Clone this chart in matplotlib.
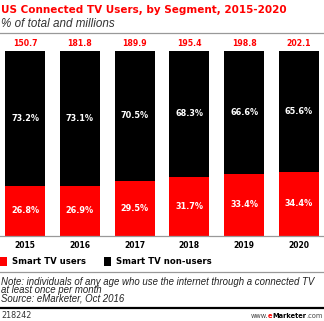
import matplotlib
matplotlib.use("Agg")
import matplotlib.pyplot as plt
from matplotlib.lines import Line2D
from matplotlib.patches import Rectangle

years = ["2015", "2016", "2017", "2018", "2019", "2020"]
users_pct = [26.8, 26.9, 29.5, 31.7, 33.4, 34.4]
nonusers_pct = [73.2, 73.1, 70.5, 68.3, 66.6, 65.6]
totals = [150.7, 181.8, 189.9, 195.4, 198.8, 202.1]

plt.rcParams["font.family"] = ["DejaVu Sans"]
ARIAL = ["Liberation Sans", "DejaVu Sans"]

RED = "#ff0000"
BLACK = "#000000"
W, H = 324, 321

fig = plt.figure(figsize=(W / 100, H / 100), dpi=100)

def fy(py):
    return 1 - py / H

def fx(px):
    return px / W

bw = 0.73
ax = fig.add_axes([fx(5), fy(235.7), fx(314), 185 / H])
x = list(range(len(years)))
ax.bar(x, users_pct, width=bw, color=RED, linewidth=0)
ax.bar(x, nonusers_pct, bottom=users_pct, width=bw, color=BLACK, linewidth=0)
ax.set_xlim(-bw / 2, len(years) - 1 + bw / 2)
ax.set_ylim(0, 100)
ax.axis("off")

for i in x:
    ax.text(i, users_pct[i] / 2, f"{users_pct[i]:.1f}%", color="white",
            ha="center", va="center", fontsize=5.9, fontweight="bold")
    ax.text(i, users_pct[i] + nonusers_pct[i] / 2, f"{nonusers_pct[i]:.1f}%",
            color="white", ha="center", va="center", fontsize=5.9, fontweight="bold")
    ax.text(i, 104, f"{totals[i]:.1f}", color=RED, ha="center", va="center",
            fontsize=5.6, fontweight="bold", clip_on=False)
    ax.text(i, -5.2, years[i], color=BLACK, ha="center", va="center",
            fontsize=5.5, fontweight="bold", clip_on=False)

# Title and subtitle
fig.text(fx(1), fy(10), "US Connected TV Users, by Segment, 2015-2020", color=RED,
         fontsize=7.5, fontweight="bold", ha="left", va="center")
fig.text(fx(1), fy(24), "% of total and millions", color="#333333", family=ARIAL,
         fontsize=8.4, style="italic", ha="left", va="center")

# Lines
fig.add_artist(Line2D([0, 1], [fy(33), fy(33)], color="#999999", lw=0.9))
fig.add_artist(Line2D([0, 1], [fy(236), fy(236)], color="#999999", lw=0.9))
fig.add_artist(Line2D([0, 1], [fy(272), fy(272)], color="#999999", lw=0.9))
fig.add_artist(Line2D([0, 1], [fy(308), fy(308)], color=BLACK, lw=1.6))

# Legend
fig.add_artist(Rectangle((fx(0), fy(265.7)), fx(7), 8.4 / H, color=RED, lw=0))
fig.text(fx(12), fy(262), "Smart TV users", fontsize=6.1, fontweight="bold",
         ha="left", va="center")
fig.add_artist(Rectangle((fx(104), fy(265.7)), fx(7), 8.4 / H, color=BLACK, lw=0))
fig.text(fx(116), fy(262), "Smart TV non-users", fontsize=6.1, fontweight="bold",
         ha="left", va="center")

# Notes
note_lines = ["Note: individuals of any age who use the internet through a connected TV",
              "at least once per month",
              "Source: eMarketer, Oct 2016"]
for k, line in enumerate(note_lines):
    fig.text(fx(1), fy(282 + 8.2 * k), line, fontsize=6.95, style="italic",
             family=ARIAL, color="#222222", ha="left", va="center")

fig.text(fx(1), fy(316), "218242", fontsize=5.8, color="#333333", ha="left", va="center")

# footer url, laid out right-to-left
renderer = fig.canvas.get_renderer()
parts = [("www.", "#444444", "normal"), ("e", RED, "bold"),
         ("Marketer", BLACK, "bold"), (".com", "#444444", "normal")]
xr = 323
for s, c, w in reversed(parts):
    t = fig.text(fx(xr), fy(316), s, fontsize=4.8, color=c, fontweight=w,
                 ha="right", va="center")
    bb = t.get_window_extent(renderer)
    xr -= bb.width

fig.savefig("out.png", dpi=100)
